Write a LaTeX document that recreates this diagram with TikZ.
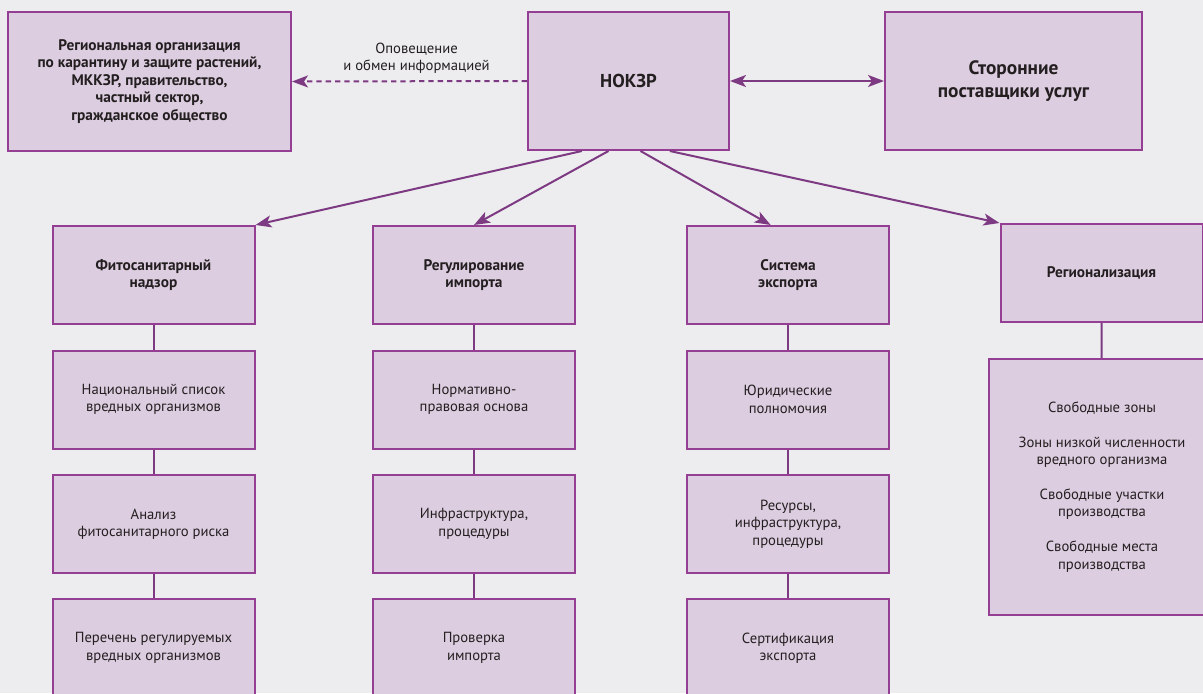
\documentclass[tikz,border=0pt]{standalone}
\usepackage{fontspec}
\setmainfont{PT Sans}
\usetikzlibrary{arrows.meta}
\definecolor{boxfill}{RGB}{221,205,224}
\definecolor{boxline}{RGB}{148,62,148}
\definecolor{arrline}{RGB}{125,58,130}
\definecolor{paper}{RGB}{237,237,239}
\definecolor{ink}{RGB}{35,31,32}
\begin{document}
\begin{tikzpicture}[x=0.75pt,y=-0.75pt,
	>={Stealth[length=12pt,width=9pt,inset=3pt]},
	box/.style={draw=boxline, line width=1.5pt, fill=boxfill, text=ink, align=center, inner sep=2pt, font=\fontsize{11}{13.1}\selectfont},
	cell/.style={box, minimum width=151.5pt, minimum height=73.5pt},
	cellhead/.style={cell, font=\fontsize{11.5}{13.1}\selectfont\bfseries},
	joint/.style={draw=arrline, line width=1.5pt},
	pointer/.style={joint, ->}]
	\useasboundingbox (0,0) rectangle (1203,693);
	\clip (0,0) rectangle (1203,693);
	\fill[paper] (0,0) rectangle (1203,693);
	% top row
	\node[box, font=\fontsize{11.5}{13.1}\selectfont\bfseries, minimum width=212.25pt, minimum height=104.25pt] (org) at (149.5,81.5) {Региональная организация\\по карантину и защите растений,\\МККЗР, правительство,\\частный сектор,\\гражданское общество};
	\node[box, font=\fontsize{14}{17.5}\selectfont\bfseries, minimum width=150.75pt, minimum height=103.5pt] (nokzr) at (628.5,81) {НОКЗР};
	\node[box, font=\fontsize{14.5}{17.5}\selectfont\bfseries, minimum width=192.75pt, minimum height=103.5pt] (prov) at (1013.5,81) {Сторонние\\поставщики услуг};
	% second row
	\node[cellhead] (nadzor) at (153.5,275) {Фитосанитарный\\надзор};
	\node[cellhead] (import) at (474,275) {Регулирование\\импорта};
	\node[cellhead] (export) at (788,275) {Система\\экспорта};
	\node[cellhead] (region) at (1101.5,273) {Регионализация};
	% columns
	\node[cell] (spisok) at (153.5,399.5) {Национальный список\\вредных организмов};
	\node[cell] (analiz) at (153.5,524) {Анализ\\фитосанитарного риска};
	\node[cell] (perechen) at (153.5,648) {Перечень регулируемых\\вредных организмов};
	\node[cell] (osnova) at (474,399.5) {Нормативно-\\правовая основа};
	\node[cell] (infra) at (474,524) {Инфраструктура,\\процедуры};
	\node[cell] (proverka) at (474,648) {Проверка\\импорта};
	\node[cell] (polnom) at (788,399.5) {Юридические\\полномочия};
	\node[cell] (resursy) at (788,524) {Ресурсы,\\инфраструктура,\\процедуры};
	\node[cell] (sertif) at (788,648) {Сертификация\\экспорта};
	\node[box, minimum width=169.5pt, minimum height=192pt] (zony) at (1102,487) {Свободные зоны\\[13pt]Зоны низкой численности\\вредного организма\\[13pt]Свободные участки\\производства\\[13pt]Свободные места\\производства};
	% arrows
	\draw[pointer, dash pattern=on 4pt off 3pt] (nokzr.west) -- node[pos=0.47, above=4pt, inner sep=1pt, text=ink, align=center, font=\fontsize{11}{13.1}\selectfont] {Оповещение\\и обмен информацией} (org.east);
	\draw[joint, <->] (nokzr.east) -- (prov.west);
	\draw[pointer] ([xshift=-35pt]nokzr.south) -- (nadzor.north east);
	\draw[pointer] ([xshift=-15pt]nokzr.south) -- (import.north);
	\draw[pointer] ([xshift=9pt]nokzr.south) -- ([xshift=-13pt]export.north);
	\draw[pointer] ([xshift=31pt]nokzr.south) -- (region.north west);
	\foreach \a/\b in {nadzor/spisok, spisok/analiz, analiz/perechen, import/osnova, osnova/infra, infra/proverka, export/polnom, polnom/resursy, resursy/sertif, region/zony}
	\draw[joint] (\a) -- (\b);
\end{tikzpicture}
\end{document}
